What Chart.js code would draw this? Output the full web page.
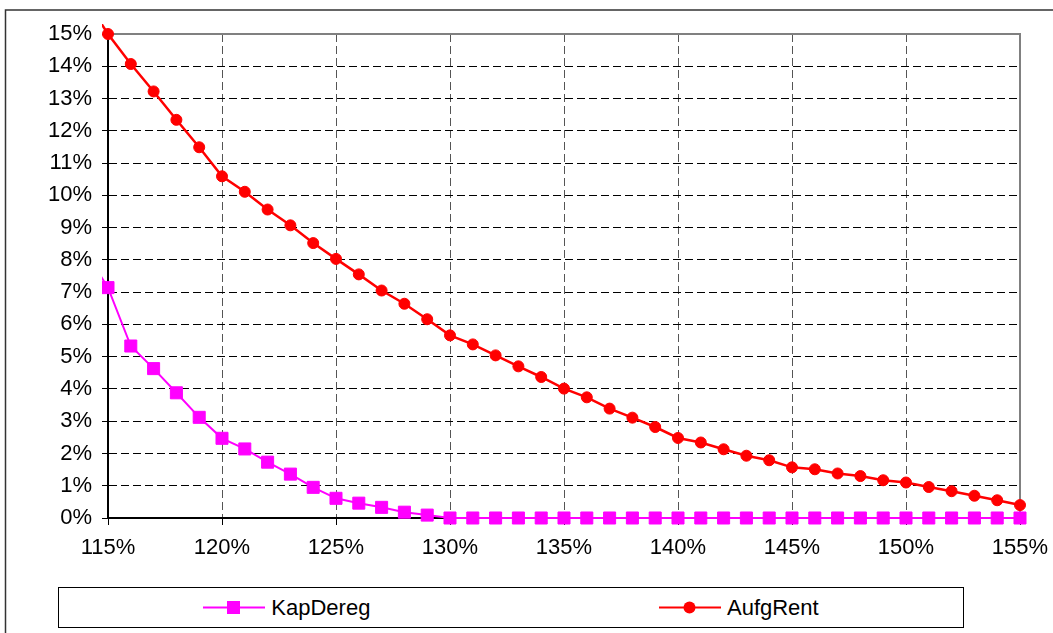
<!DOCTYPE html>
<html>
<head>
<meta charset="utf-8">
<script src="https://cdn.jsdelivr.net/npm/chart.js@4.4.1/dist/chart.umd.min.js"></script>
<style>
  html, body { margin: 0; padding: 0; background: #fff; }
  #wrap { position: relative; width: 1053px; height: 633px; overflow: hidden; }
  #legend {
    position: absolute; left: 58px; top: 587px; width: 904px; height: 39px;
    border: 1px solid #000; background: #fff;
    display: flex; justify-content: space-around; align-items: center;
    font: 22px "Liberation Sans", Arial, sans-serif; color: #000;
  }
  .item { display: flex; align-items: center; }
  .item svg { margin-right: 6px; }
</style>
</head>
<body>
<div id="wrap">
  <canvas id="lineChart" width="1053" height="633"></canvas>
  <div id="legend"></div>
</div>
<script>
// x values in %, 114% only shows as the stub left of the axis
var levels = [114, 115, 116, 117, 118, 119, 120, 121, 122, 123, 124, 125, 126, 127,
  128, 129, 130, 131, 132, 133, 134, 135, 136, 137, 138, 139, 140, 141, 142, 143,
  144, 145, 146, 147, 148, 149, 150, 151, 152, 153, 154, 155];
var kapDereg = [8.27, 7.14, 5.33, 4.63, 3.88, 3.12, 2.47, 2.14, 1.73, 1.36, 0.95, 0.61,
  0.46, 0.33, 0.18, 0.09, 0, 0, 0, 0, 0, 0, 0, 0, 0, 0, 0, 0, 0, 0,
  0, 0, 0, 0, 0, 0, 0, 0, 0, 0, 0, 0];
var aufgRent = [16.1, 15.0, 14.07, 13.22, 12.34, 11.49, 10.59, 10.11, 9.56, 9.07, 8.52, 8.03,
  7.55, 7.05, 6.64, 6.16, 5.66, 5.38, 5.04, 4.70, 4.37, 4.01, 3.74, 3.39, 3.11, 2.82,
  2.48, 2.34, 2.13, 1.93, 1.79, 1.57, 1.51, 1.38, 1.30, 1.17, 1.10, 0.96, 0.83, 0.69, 0.55, 0.40];
var seriesNames = ['KapDereg', 'AufgRent'];

var fontFamily = '"Liberation Sans", Arial, sans-serif';

function toPoints(values) {
  return values.map(function (v, i) { return { x: levels[i], y: v }; });
}

var framePlugin = {
  id: 'frame',
  beforeDraw: function (chart) {
    var ctx = chart.ctx;
    ctx.save();
    ctx.fillStyle = '#fff';
    ctx.fillRect(0, 0, chart.width, chart.height);
    ctx.strokeStyle = '#333';
    ctx.lineWidth = 1.5;
    ctx.strokeRect(5.5, 10, chart.width + 20, chart.height + 20);
    ctx.restore();
  },
  beforeDatasetsDraw: function (chart) {
    var a = chart.chartArea, ctx = chart.ctx;
    ctx.save();
    ctx.strokeStyle = '#808080';
    ctx.lineWidth = 2;
    ctx.beginPath();
    ctx.moveTo(a.left, a.top);
    ctx.lineTo(a.right, a.top);
    ctx.lineTo(a.right, a.bottom);
    ctx.stroke();
    ctx.restore();
  }
};

var ctxL = document.getElementById('lineChart').getContext('2d');
var lineChart = new Chart(ctxL, {
  type: 'line',
  data: {
    datasets: [{
      label: seriesNames[0],
      data: toPoints(kapDereg),
      borderColor: '#FF00FF',
      backgroundColor: '#FF00FF',
      borderWidth: 2,
      pointStyle: 'rect',
      pointRadius: 8.5,
      pointBorderWidth: 1,
      tension: 0,
      clip: { left: 6, top: 10, right: 10, bottom: 10 }
    }, {
      label: seriesNames[1],
      data: toPoints(aufgRent),
      borderColor: '#FF0000',
      backgroundColor: '#FF0000',
      borderWidth: 2.5,
      pointStyle: 'circle',
      pointRadius: 5.5,
      pointBorderWidth: 1,
      tension: 0,
      clip: { left: 6, top: 10, right: 10, bottom: 10 }
    }]
  },
  options: {
    responsive: false,
    animation: false,
    layout: { padding: { top: 34, right: 33, left: 0, bottom: 0 } },
    plugins: {
      legend: { display: false },
      tooltip: { enabled: false }
    },
    scales: {
      x: {
        type: 'linear',
        min: 115,
        max: 155,
        afterFit: function (s) { s.height = 115; s.paddingLeft = 0; s.paddingRight = 0; },
        ticks: {
          stepSize: 5,
          maxRotation: 0,
          padding: 10,
          color: '#000',
          font: { size: 22, family: fontFamily },
          callback: function (v) { return v + '%'; }
        },
        grid: { color: '#555', lineWidth: 1, tickLength: 7, tickColor: '#000', tickBorderDash: [] },
        border: { display: true, color: '#000', width: 2, dash: [8, 4] }
      },
      y: {
        min: 0,
        max: 15,
        afterFit: function (s) { s.width = 108; s.paddingTop = 0; s.paddingBottom = 0; },
        ticks: {
          stepSize: 1,
          padding: 10,
          color: '#000',
          font: { size: 22, family: fontFamily },
          callback: function (v) { return v + '%'; }
        },
        grid: { color: '#000', lineWidth: 1, tickLength: 6, tickColor: '#000', tickBorderDash: [] },
        border: { display: true, color: '#000', width: 2, dash: [8, 4] }
      }
    }
  },
  plugins: [framePlugin]
});

// HTML legend built from the chart's datasets
var legendBox = document.getElementById('legend');
lineChart.data.datasets.forEach(function (ds) {
  var marker = ds.pointStyle === 'rect'
    ? '<rect x="24" y="4" width="13" height="13" fill="' + ds.borderColor + '"/>'
    : '<circle cx="30.5" cy="10.5" r="6" fill="' + ds.borderColor + '"/>';
  var item = document.createElement('div');
  item.className = 'item';
  item.innerHTML = '<svg width="62" height="21"><line x1="0" y1="10.5" x2="62" y2="10.5" stroke="' +
    ds.borderColor + '" stroke-width="2"/>' + marker + '</svg><span>' + ds.label + '</span>';
  legendBox.appendChild(item);
});
</script>
</body>
</html>
